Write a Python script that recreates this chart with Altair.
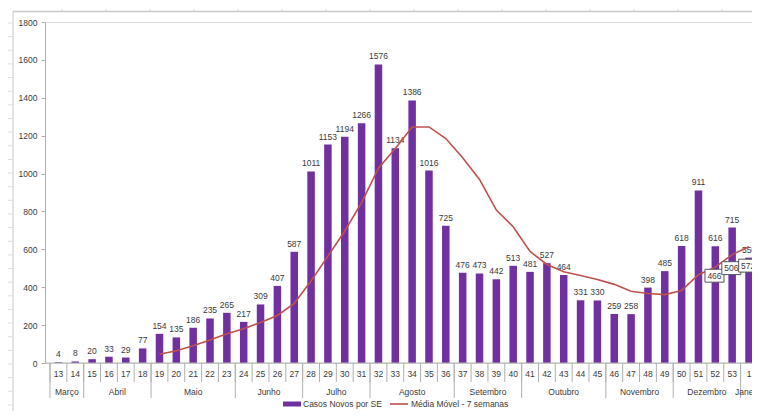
import altair as alt
import pandas as pd

# ---------------- data ----------------
weeks = ["13", "14", "15", "16", "17", "18", "19", "20", "21", "22", "23", "24",
         "25", "26", "27", "28", "29", "30", "31", "32", "33", "34", "35", "36",
         "37", "38", "39", "40", "41", "42", "43", "44", "45", "46", "47", "48",
         "49", "50", "51", "52", "53", "1"]
cases = [4, 8, 20, 33, 29, 77, 154, 135, 186, 235, 265, 217,
         309, 407, 587, 1011, 1153, 1194, 1266, 1576, 1134, 1386, 1016, 725,
         476, 473, 442, 513, 481, 527, 464, 331, 330, 259, 258, 398,
         485, 618, 911, 616, 715, 556]

ma_weeks = ["19", "20", "21", "22", "23", "24", "25", "26", "27", "28", "29", "30",
            "31", "32", "33", "34", "35", "36", "37", "38", "39", "40", "41", "42",
            "43", "44", "45", "46", "47", "48", "49", "50", "51", "52", "53", "1"]
ma_values = [46, 65, 91, 121, 154, 181, 214, 251, 315, 433, 564, 697,
             847, 1028, 1132, 1246, 1246, 1185, 1083, 969, 807, 719, 589, 520,
             482, 462, 441, 415, 379, 367, 361, 383, 466, 506, 572, 614]

months = ["Março", "Abril", "Maio", "Junho", "Julho", "Agosto", "Setembro",
          "Outubro", "Novembro", "Dezembro", "Janeiro"]
month_first_week = ["13", "15", "19", "24", "28", "32", "37", "41", "46", "50", "1"]

boxed_weeks_a = ["51", "52"]
boxed_weeks_b = ["53", "1"]

legend_labels = ["Casos Novos por SE", "Média Móvel - 7 semanas"]
y_ticks = [0, 200, 400, 600, 800, 1000, 1200, 1400, 1600, 1800]

# ---------------- styling / layout ----------------
PURPLE = "#7030A0"
RED = "#C0504D"
TXT = "#3a3a3a"
GREY = "#b0b0b0"
FONT = "Liberation Sans"
FS = 8.5

PAD_L, PAD_T, SVG_W, SVG_H = 37, 14, 744, 403
W, H = SVG_W - PAD_L, 341
STEP = 17.085
XMAX = W / STEP
LEG_Y = H + 41

idx = {w: i for i, w in enumerate(weeks)}
bars_df = pd.DataFrame({"week": weeks, "cases": cases,
                        "pos": [i + 0.5 for i in range(len(weeks))]})
ma_df = pd.DataFrame({"week": ma_weeks, "ma": ma_values,
                      "pos": [idx[w] + 0.5 for w in ma_weeks]})
edges_df = pd.DataFrame({"edge": list(range(len(weeks) + 1))})
starts = [idx[w] for w in month_first_week]
ends = starts[1:] + [len(weeks)]
month_df = pd.DataFrame({"month": months, "start": starts,
                         "center": [(s + e) / 2 for s, e in zip(starts, ends)]})
month_edges_df = pd.DataFrame({"edge": starts + [len(weeks)]})
box_a_df = ma_df[ma_df["week"].isin(boxed_weeks_a)]
box_b_df = ma_df[ma_df["week"].isin(boxed_weeks_b)]

xs = alt.Scale(domain=[0, XMAX], nice=False, zero=False)
ys = alt.Scale(domain=[0, 1800], nice=False, zero=True)
Y_AX = alt.Axis(values=y_ticks, format="d", tickSize=4, tickColor=GREY,
                domainColor=GREY, labelFont=FONT, labelFontSize=FS,
                labelColor=TXT, labelPadding=4, grid=False, title=None,
                labelFlush=False)


def X(field):
    return alt.X(field, type="quantitative", scale=xs, axis=None)


def Yq(field):
    return alt.Y(field, type="quantitative", scale=ys, axis=Y_AX)


bars = alt.Chart(bars_df).mark_bar(color=PURPLE, width=7.5, clip=True).encode(
    x=X("pos"), y=Yq("cases"))

bar_labels = alt.Chart(bars_df).mark_text(
    font=FONT, fontSize=FS, color=TXT, baseline="bottom", dy=-3, clip=True
).encode(x=X("pos"), y=Yq("cases"), text="cases:Q")

line = alt.Chart(ma_df).mark_line(color=RED, strokeWidth=1.6, clip=True).encode(
    x=X("pos"), y=Yq("ma"), order="pos:Q")

BOX = "M-1,-0.68L1,-0.68L1,0.68L-1,0.68Z"


def boxes(df, yoff):
    b = alt.Chart(df).mark_point(shape=BOX, size=361, filled=True, fill="white",
                                 stroke="#555555", strokeWidth=1, opacity=1,
                                 xOffset=16, yOffset=yoff, clip=True).encode(
        x=X("pos"), y=Yq("ma"))
    t = alt.Chart(df).mark_text(font=FONT, fontSize=FS, color=TXT, xOffset=16,
                                yOffset=yoff, baseline="middle", clip=True).encode(
        x=X("pos"), y=Yq("ma"), text="ma:Q")
    return b + t


# category axis drawn by hand
one = pd.DataFrame({"k": [0]})
baseline = alt.Chart(one).mark_rule(color=GREY, strokeWidth=1).encode(
    x=alt.value(0), x2=alt.value(W), y=alt.value(H))
week_sep = alt.Chart(edges_df).mark_rule(color=GREY, strokeWidth=1).encode(
    x=X("edge"), y=alt.value(H), y2=alt.value(H + 19))
month_sep = alt.Chart(month_edges_df).mark_rule(color=GREY, strokeWidth=1).encode(
    x=X("edge"), y=alt.value(H), y2=alt.value(H + 35))
week_text = alt.Chart(bars_df).mark_text(font=FONT, fontSize=FS, color=TXT,
                                         baseline="middle").encode(
    x=X("pos"), y=alt.value(H + 11), text="week:N")
month_text = alt.Chart(month_df).mark_text(font=FONT, fontSize=FS, color=TXT,
                                           baseline="middle").encode(
    x=X("center"), y=alt.value(H + 29), text="month:N")

# legend
leg_df = pd.DataFrame({"label": legend_labels})
leg_sw = alt.Chart(leg_df).transform_filter(
    alt.datum.label == legend_labels[0]).mark_rect(color=PURPLE).encode(
    x=alt.value(238), x2=alt.value(256), y=alt.value(LEG_Y - 2.5),
    y2=alt.value(LEG_Y + 2.5))
leg_t1 = alt.Chart(leg_df).transform_filter(
    alt.datum.label == legend_labels[0]).mark_text(
    font=FONT, fontSize=FS, color=TXT, align="left", baseline="middle").encode(
    x=alt.value(258), y=alt.value(LEG_Y), text="label:N")
leg_ln = alt.Chart(leg_df).transform_filter(
    alt.datum.label == legend_labels[1]).mark_rule(color=RED, strokeWidth=1.6).encode(
    x=alt.value(345), x2=alt.value(363), y=alt.value(LEG_Y))
leg_t2 = alt.Chart(leg_df).transform_filter(
    alt.datum.label == legend_labels[1]).mark_text(
    font=FONT, fontSize=FS, color=TXT, align="left", baseline="middle").encode(
    x=alt.value(366), y=alt.value(LEG_Y), text="label:N")

# spreadsheet frame remnants
FRAME = "#c8c8c8"
top_line = alt.Chart(one).mark_rule(color=FRAME, strokeWidth=1.5).encode(
    x=alt.value(-32), x2=alt.value(W), y=alt.value(-10.5))
left_line = alt.Chart(one).mark_rule(color=FRAME, strokeWidth=1).encode(
    x=alt.value(-32), y=alt.value(-10.5), y2=alt.value(400))
top_ticks_df = pd.DataFrame({"px": [17 + 44 * k for k in range(17)]})
top_ticks = alt.Chart(top_ticks_df).mark_rule(color="#dddddd", strokeWidth=1).encode(
    x=alt.X("px:Q", scale=None, axis=None), y=alt.value(-13), y2=alt.value(-11))
left_ticks_df = pd.DataFrame({"py": [1 + 13.64 * k for k in range(30)]})
left_ticks = alt.Chart(left_ticks_df).mark_rule(color="#dddddd", strokeWidth=1).encode(
    y=alt.Y("py:Q", scale=None, axis=None), x=alt.value(-40), x2=alt.value(-33))

chart = alt.layer(
    top_line, left_line, top_ticks, left_ticks,
    bars, bar_labels, line, boxes(box_a_df, 1), boxes(box_b_df, 11),
    baseline, week_sep, month_sep, week_text, month_text,
    leg_sw, leg_t1, leg_ln, leg_t2,
).resolve_scale(x="shared", y="shared").properties(
    width=W, height=H,
    autosize=alt.AutoSizeParams(type="none"),
    padding={"left": PAD_L, "top": PAD_T, "right": 0,
             "bottom": SVG_H - PAD_T - H},
).configure_view(stroke=None).configure(background="white")

chart.save("out.html", embed_options={"renderer": "svg", "actions": False})
